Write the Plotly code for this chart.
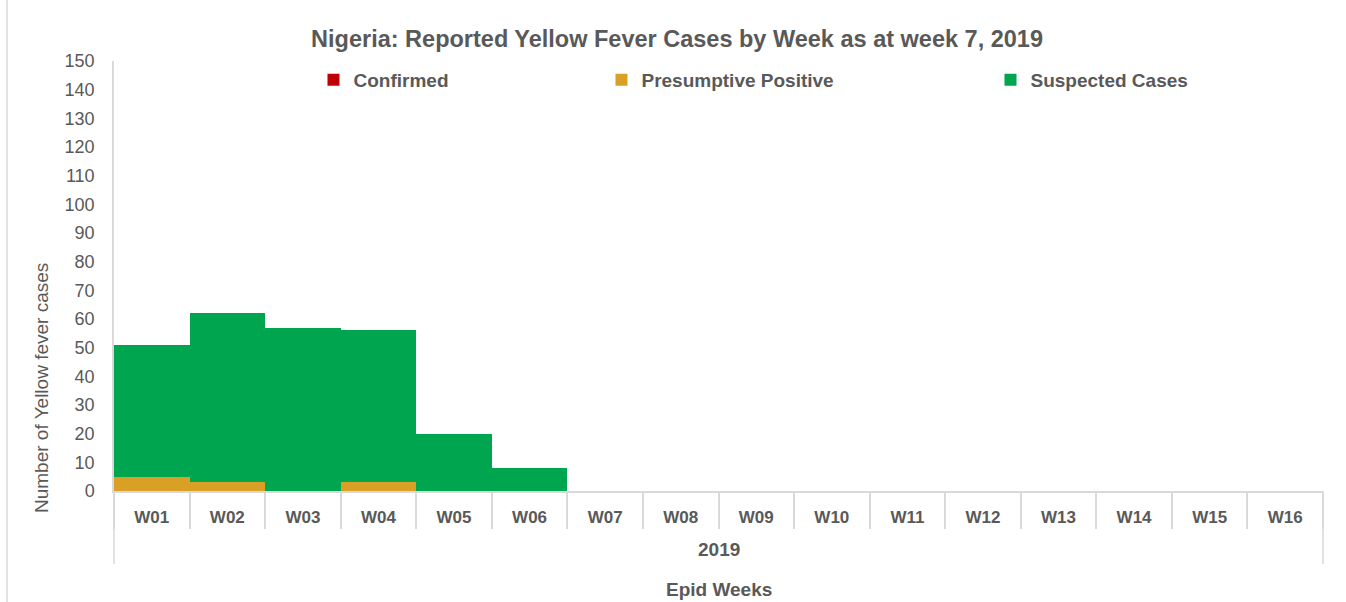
import plotly.graph_objects as go

weeks = ['W%02d' % i for i in range(1, 17)]
year_label = '2019'
confirmed = [0, 0, 0, 0, 0, 0, 0, 0, 0, 0, 0, 0, 0, 0, 0, 0]
presumptive = [5, 3, 0, 3, 0, 0, 0, 0, 0, 0, 0, 0, 0, 0, 0, 0]
suspected = [46, 59, 57, 53, 20, 8, 0, 0, 0, 0, 0, 0, 0, 0, 0, 0]

GREY = '#595959'
LINE = '#d9d9d9'
FONT = 'Liberation Sans, Arial, sans-serif'

fig = go.Figure()
fig.add_trace(go.Bar(x=weeks, y=confirmed, name='Confirmed', marker_color='#c00000',
                     legendwidth=243))
fig.add_trace(go.Bar(x=weeks, y=presumptive, name='Presumptive Positive', marker_color='#daa025',
                     legendwidth=344))
fig.add_trace(go.Bar(x=weeks, y=suspected, name='Suspected Cases', marker_color='#00a54f',
                     legendwidth=200))
fig.update_traces(marker_line_width=0)

fig.update_layout(
    width=1346, height=602,
    barmode='stack', bargap=0,
    plot_bgcolor='white', paper_bgcolor='white',
    font=dict(family=FONT, color=GREY, size=19),
    title=dict(text='<b>Nigeria: Reported Yellow Fever Cases by Week as at week 7, 2019</b>',
               x=0.503, xanchor='center', y=0.935, yanchor='middle',
               font=dict(size=23.5, color=GREY)),
    legend=dict(orientation='h', x=0.165, xanchor='left', y=1.0, yanchor='top',
                bgcolor='rgba(0,0,0,0)', font=dict(size=19, color=GREY, weight='bold'),
                traceorder='normal', itemwidth=30),
    margin=dict(l=114, r=23, t=61, b=111),
    xaxis=dict(type='category', showgrid=False, showline=True, linecolor=LINE, linewidth=1.5,
               tickson='boundaries', ticks='outside', ticklen=36, tickcolor=LINE, tickwidth=1.5,
               ticklabelstandoff=10,
               tickfont=dict(size=17, color=GREY, family=FONT, weight='bold')),
    yaxis=dict(range=[0, 150], dtick=10, showgrid=False, showline=True, linecolor=LINE,
               linewidth=1.5, ticks='', zeroline=False, ticklabelstandoff=14,
               tickfont=dict(size=18, color=GREY)),
)

# year level and axis titles
fig.add_annotation(text='<b>%s</b>' % year_label, xref='paper', yref='paper', x=0.5, y=-0.137,
                   showarrow=False, font=dict(size=19, color=GREY), yanchor='middle')
fig.add_annotation(text='<b>Epid Weeks</b>', xref='paper', yref='paper', x=0.5, y=-0.23,
                   showarrow=False, font=dict(size=19, color=GREY), yanchor='middle')
fig.add_annotation(text='Number of Yellow fever cases', xref='paper', yref='paper',
                   x=-0.0604, y=0.2395, textangle=-90, showarrow=False,
                   font=dict(size=19, color=GREY), xanchor='center', yanchor='middle')

# outer dividers of the year group and chart border
for xp in (0, 1):
    fig.add_shape(type='line', xref='paper', yref='paper', x0=xp, x1=xp, y0=0, y1=-0.17,
                  line=dict(color=LINE, width=1.5))
fig.add_shape(type='line', xref='paper', yref='paper', x0=-0.0885, x1=-0.0885, y0=-0.3, y1=1.2,
              line=dict(color=LINE, width=1.5))

fig.write_html('out.html', config={'displayModeBar': False},
               post_script="document.body.style.margin='0';")
